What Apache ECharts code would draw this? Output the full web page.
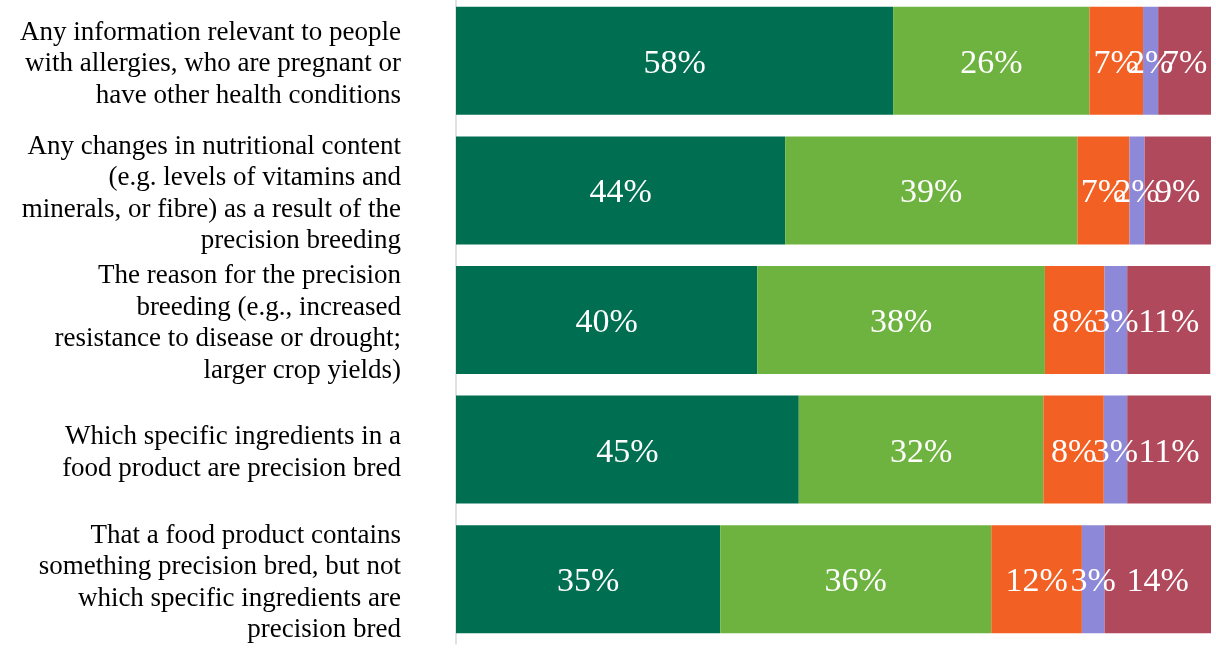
<!DOCTYPE html>
<html>
<head>
<meta charset="utf-8">
<script src="https://cdn.jsdelivr.net/npm/echarts@6/dist/echarts.min.js"></script>
<style>
html,body{margin:0;padding:0;background:#fff;overflow:hidden;}
#chart{position:absolute;left:0;top:-4px;width:1216px;height:652px;}
</style>
</head>
<body>
<div id="chart"></div>
<script>
var categories = [
  "Any information relevant to people\nwith allergies, who are pregnant or\nhave other health conditions",
  "Any changes in nutritional content\n(e.g. levels of vitamins and\nminerals, or fibre) as a result of the\nprecision breeding",
  "The reason for the precision\nbreeding (e.g., increased\nresistance to disease or drought;\nlarger crop yields)",
  "Which specific ingredients in a\nfood product are precision bred",
  "That a food product contains\nsomething precision bred, but not\nwhich specific ingredients are\nprecision bred"
];
var seriesNames = ["Series 1", "Series 2", "Series 3", "Series 4", "Series 5"];
var series1 = [57.9, 43.6, 39.9, 45.4, 35.0];
var series2 = [26.0, 38.7, 38.1, 32.4, 35.9];
var series3 = [7.1, 6.9, 7.9, 8.0, 12.0];
var series4 = [2.0, 2.0, 3.0, 3.1, 3.0];
var series5 = [7.0, 8.8, 11.0, 11.1, 14.1];
var colors = ["#006F51", "#6EB33F", "#F26024", "#8D88D8", "#B0495B"];

var allValues = [series1, series2, series3, series4, series5];
var chart = echarts.init(document.getElementById('chart'), null, {renderer: 'canvas'});
var series = allValues.map(function (vals, i) {
  return {
    name: seriesNames[i],
    type: 'bar',
    stack: 'total',
    data: vals,
    barWidth: 108,
    itemStyle: {color: colors[i]},
    label: {
      show: true,
      position: 'inside',
      offset: [0, 3],
      color: '#ffffff',
      fontFamily: 'Liberation Serif',
      fontSize: 34,
      formatter: function (p) { return Math.round(p.value) + '%'; }
    },
    emphasis: {disabled: true}
  };
});
chart.setOption({
  animation: false,
  backgroundColor: '#ffffff',
  grid: {left: 456, right: 5, top: 0, bottom: 4, containLabel: false},
  xAxis: {
    type: 'value', min: 0, max: 100, show: false
  },
  yAxis: {
    type: 'category',
    inverse: true,
    data: categories,
    axisLine: {show: true, lineStyle: {color: '#d9d9d9', width: 1.5}},
    axisTick: {show: false},
    axisLabel: {
      margin: 55,
      align: 'right',
      color: '#000000',
      fontFamily: 'Liberation Serif',
      fontSize: 27,
      lineHeight: 31.5,
      formatter: function (v) {
        return '{s| }\n' + v.split('\n').map(function (l) { return '{a|' + l + '}'; }).join('\n');
      },
      rich: {
        s: {fontSize: 4, lineHeight: 7},
        a: {fontFamily: 'Liberation Serif', fontSize: 27, lineHeight: 31.5, color: '#000000'}
      }
    }
  },
  series: series
});
</script>
</body>
</html>
